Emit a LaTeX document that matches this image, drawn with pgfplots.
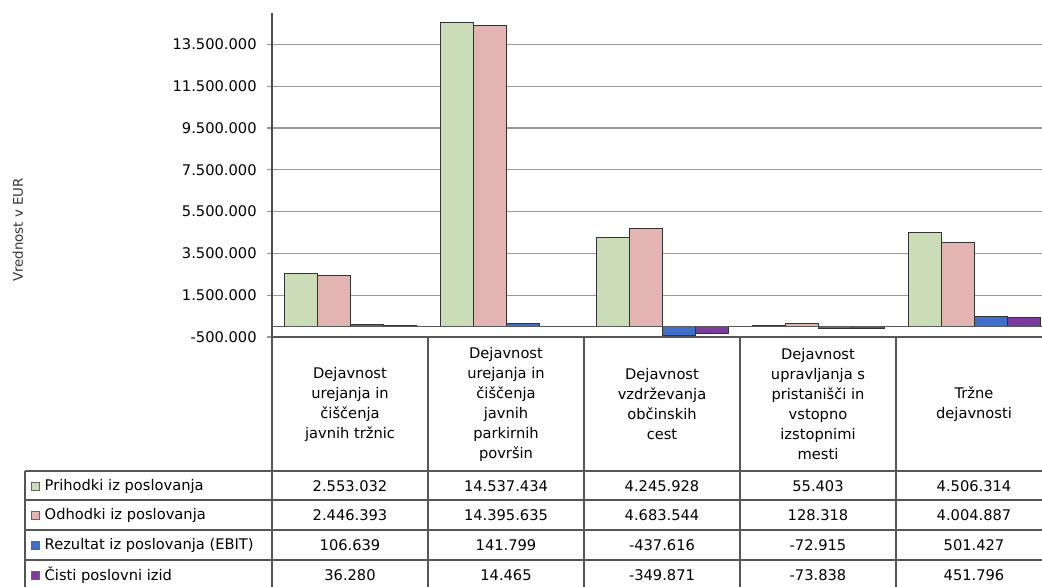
\documentclass[border=0pt]{standalone}
\usepackage{fontspec}
\setmainfont{DejaVu Sans}
\usepackage{pgfplots}
\pgfplotsset{compat=1.18}

% bar colours
\definecolor{grB}{HTML}{CADDB8}
\definecolor{pkB}{HTML}{E2B4B2}
\definecolor{blB}{HTML}{3F6FC8}
\definecolor{puB}{HTML}{7B3C9E}
\definecolor{tbl}{HTML}{555555}

\begin{document}
\begin{tikzpicture}
\useasboundingbox (0,0) rectangle (781.5pt,-439.5pt);
\begin{axis}[
  at={(204pt,-252.75pt)}, anchor=south west,
  scale only axis, width=585pt, height=243pt,
  xmin=-0.5, xmax=4.5, ymin=-500000, ymax=15000000,
  axis lines=left,
  axis line style={-, black!70, line width=0.8pt},
  xtick=\empty,
  ytick={-500000,1500000,3500000,5500000,7500000,9500000,11500000,13500000},
  scaled y ticks=false,
  ticklabel style={font=\fontsize{11}{13}\selectfont},
  yticklabel style={xshift=-4pt, /pgf/number format/.cd, fixed, 1000 sep={.}, assume math mode=true},
  ymajorgrids,
  grid style={gray!80, line width=0.8pt},
  tick align=outside, major tick length=4pt,
  ytick style={gray!80, line width=0.8pt},
  ybar=0pt, bar width=0.2115,
  ylabel={Vrednost v EUR},
  ylabel style={at={(axis description cs:-0.3256,0.330)}, anchor=center,
    font=\fontsize{10}{12}\selectfont, text=black!80},
]
\addplot[draw=black!80, line width=0.6pt, fill=grB]
  coordinates {(0,2553032) (1,14537434) (2,4245928) (3,55403) (4,4506314)};
\addplot[draw=black!80, line width=0.6pt, fill=pkB]
  coordinates {(0,2446393) (1,14395635) (2,4683544) (3,128318) (4,4004887)};
\addplot[draw=black!80, line width=0.6pt, fill=blB]
  coordinates {(0,106639) (1,141799) (2,-437616) (3,-72915) (4,501427)};
\addplot[draw=black!80, line width=0.6pt, fill=puB]
  coordinates {(0,36280) (1,14465) (2,-349871) (3,-73838) (4,451796)};
\draw[black!65, line width=1pt] (axis cs:-0.5,0) -- (axis cs:4.5,0);
\end{axis}

% data table below the plot (pixel units, origin top left)
\begin{scope}[x=0.75pt, y=-0.75pt, font=\fontsize{11}{15}\selectfont]
  \draw[tbl, line width=0.8pt] (272,337) -- (1052,337);
  \foreach \x in {272,428,584,740,896,1052}
    \draw[tbl, line width=0.8pt] (\x,337) -- (\x,600);
  \draw[tbl, line width=0.8pt] (25,471) -- (25,600);
  \foreach \y in {471,500,530,560}
    \draw[tbl, line width=0.8pt] (25,\y) -- (1052,\y);

  \node[align=center] at (350,404) {Dejavnost\\urejanja in\\čiščenja\\javnih tržnic};
  \node[align=center] at (506,404) {Dejavnost\\urejanja in\\čiščenja\\javnih\\parkirnih\\površin};
  \node[align=center] at (662,404) {Dejavnost\\vzdrževanja\\občinskih\\cest};
  \node[align=center] at (818,404) {Dejavnost\\upravljanja s\\pristanišči in\\vstopno\\izstopnimi\\mesti};
  \node[align=center] at (974,404) {Tržne\\dejavnosti};

  \filldraw[fill=grB, draw=black!60, line width=0.3pt] (31,482) rectangle (39,490);
  \filldraw[fill=pkB, draw=black!60, line width=0.3pt] (31,511) rectangle (39,519);
  \filldraw[fill=blB, draw=black!60, line width=0.3pt] (31,541) rectangle (39,549);
  \filldraw[fill=puB, draw=black!60, line width=0.3pt] (31,571) rectangle (39,579);

  \node[anchor=west] at (40,486) {Prihodki iz poslovanja};
  \node[anchor=west] at (40,515.5) {Odhodki iz poslovanja};
  \node[anchor=west] at (40,545.5) {Rezultat iz poslovanja (EBIT)};
  \node[anchor=west] at (40,575.5) {Čisti poslovni izid};

  \foreach \v [count=\i from 0] in {2.553.032,14.537.434,4.245.928,55.403,4.506.314}
    \node at (350+156*\i,486) {\v};
  \foreach \v [count=\i from 0] in {2.446.393,14.395.635,4.683.544,128.318,4.004.887}
    \node at (350+156*\i,515.5) {\v};
  \foreach \v [count=\i from 0] in {106.639,141.799,-437.616,-72.915,501.427}
    \node at (350+156*\i,545.5) {\v};
  \foreach \v [count=\i from 0] in {36.280,14.465,-349.871,-73.838,451.796}
    \node at (350+156*\i,575.5) {\v};
\end{scope}
\end{tikzpicture}
\end{document}
